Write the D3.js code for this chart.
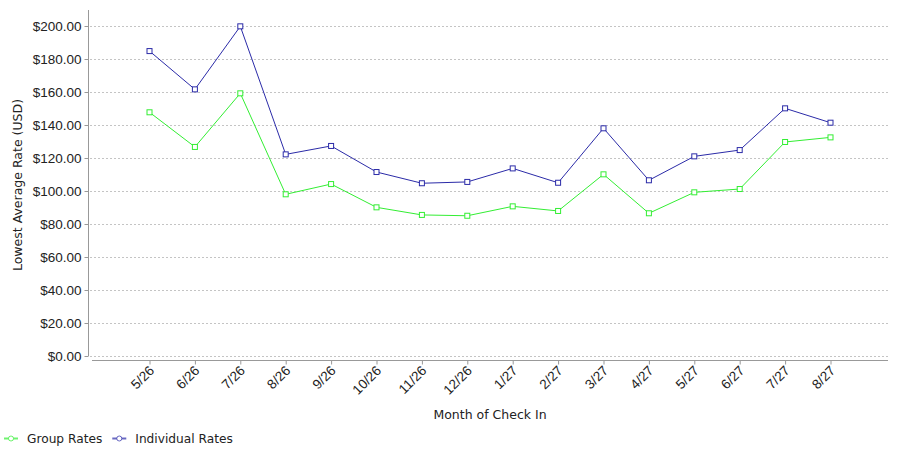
<!DOCTYPE html>
<html>
<head>
<meta charset="utf-8">
<script src="https://cdn.jsdelivr.net/npm/d3@7"></script>
<style>
  body { margin: 0; background: #fff; }
  svg { display: block; font-family: "DejaVu Sans", sans-serif; }
</style>
</head>
<body>
<div id="chart"></div>
<script>
// months of check in
const months = ["5/26", "6/26", "7/26", "8/26", "9/26", "10/26", "11/26", "12/26",
  "1/27", "2/27", "3/27", "4/27", "5/27", "6/27", "7/27", "8/27"];
const groupRates = [147.7, 126.7, 159.2, 98.0, 104.2, 90.1, 85.5, 85.0,
  90.7, 87.9, 110.1, 86.5, 99.2, 101.2, 129.7, 132.5];
const individualRates = [184.8, 161.6, 199.8, 122.2, 127.3, 111.5, 104.7, 105.5,
  113.7, 105.0, 138.0, 106.5, 121.0, 124.8, 150.1, 141.4];
const yTicks = [0, 20, 40, 60, 80, 100, 120, 140, 160, 180, 200];
const seriesNames = ["Group Rates", "Individual Rates"];

const W = 900, H = 450;
const plot = {left: 88, right: 888, top: 10, bottom: 356};
const colors = {"Group Rates": "#33ee33", "Individual Rates": "#2b2ba8"};

const svg = d3.select("#chart").append("svg")
  .attr("width", W)
  .attr("height", H);

const x = d3.scalePoint()
  .domain(months)
  .range([149.5, 830.5]);

const y = d3.scaleLinear()
  .domain([0, 200])
  .range([plot.bottom, 26]);

// gridlines
svg.append("g")
  .selectAll("line")
  .data(yTicks)
  .enter().append("line")
    .attr("x1", plot.left + 2)
    .attr("x2", plot.right)
    .attr("y1", d => Math.round(y(d)) + 0.5)
    .attr("y2", d => Math.round(y(d)) + 0.5)
    .attr("stroke", "#c4c4c4")
    .attr("stroke-dasharray", "2,2");

// y axis
const yAxis = d3.axisLeft(y)
  .tickValues(yTicks)
  .tickSize(4)
  .tickPadding(3)
  .tickFormat(d => "$" + d3.format(".2f")(d));

svg.append("g")
  .attr("transform", `translate(${plot.left + 0.5},0)`)
  .call(yAxis)
  .call(g => g.select(".domain").attr("d", `M-0,${plot.top}V${plot.bottom}`))
  .call(g => g.selectAll("line, .domain").attr("stroke", "#999"))
  .call(g => g.selectAll("text").attr("fill", "#222").style("font-size", "13.5px"));

// x axis
const xAxis = d3.axisBottom(x).tickSize(4).tickSizeOuter(0);

svg.append("g")
  .attr("transform", `translate(0,${plot.bottom + 4.5})`)
  .call(xAxis)
  .call(g => g.select(".domain").attr("d", `M${plot.left + 4},0H${plot.right}`))
  .call(g => g.selectAll("line, .domain").attr("stroke", "#999"))
  .call(g => g.selectAll("text")
    .attr("fill", "#222")
    .style("font-size", "13.5px")
    .attr("text-anchor", "end")
    .attr("dy", null)
    .attr("y", 0)
    .attr("transform", "translate(5,11) rotate(-45)"));

// axis titles
svg.append("text")
  .attr("transform", `translate(22,185) rotate(-90)`)
  .attr("text-anchor", "middle")
  .attr("fill", "#222")
  .style("font-size", "12.5px")
  .text("Lowest Average Rate (USD)");

svg.append("text")
  .attr("x", 490)
  .attr("y", 419)
  .attr("text-anchor", "middle")
  .attr("fill", "#222")
  .style("font-size", "12.5px")
  .text("Month of Check In");

// lines and markers
const series = [
  {name: "Group Rates", values: groupRates},
  {name: "Individual Rates", values: individualRates}
];

const line = d3.line()
  .x((d, i) => x(months[i]))
  .y(d => y(d));

series.forEach(s => {
  svg.append("path")
    .datum(s.values)
    .attr("fill", "none")
    .attr("stroke", colors[s.name])
    .attr("stroke-width", 1)
    .attr("d", line);

  svg.append("g")
    .selectAll("rect")
    .data(s.values)
    .enter().append("rect")
      .attr("x", (d, i) => x(months[i]) - 2.5)
      .attr("y", d => y(d) - 2.5)
      .attr("width", 5)
      .attr("height", 5)
      .attr("fill", "#fff")
      .attr("stroke", colors[s.name])
      .attr("stroke-width", 1);
});

// legend
const legend = svg.append("g").attr("transform", "translate(0,438)");
let lx = 4;
seriesNames.forEach(name => {
  const item = legend.append("g").attr("transform", `translate(${lx},0)`);
  item.append("line")
    .attr("x1", 0).attr("x2", 14)
    .attr("y1", 0.5).attr("y2", 0.5)
    .attr("stroke", colors[name])
    .attr("stroke-opacity", 0.7)
    .attr("stroke-width", 2);
  item.append("circle")
    .attr("cx", 7).attr("cy", 0.5).attr("r", 2.5)
    .attr("fill", "#fff")
    .attr("stroke", colors[name])
    .attr("stroke-opacity", 0.7);
  const t = item.append("text")
    .attr("x", 23)
    .attr("y", 4.5)
    .attr("fill", "#222")
    .style("font-size", "12.2px")
    .text(name);
  lx += 23 + t.node().getComputedTextLength() + 10;
});
</script>
</body>
</html>
